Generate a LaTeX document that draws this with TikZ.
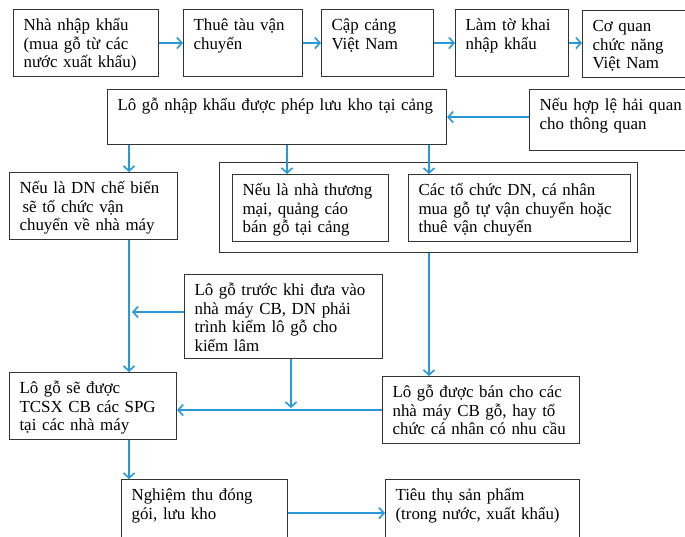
\documentclass[tikz,border=0pt]{standalone}
\usepackage{fontspec}
\setmainfont{Liberation Serif}
\usetikzlibrary{arrows.meta}
\definecolor{flowblue}{RGB}{41,152,216}

\begin{document}
\begin{tikzpicture}[x=1pt, y=-1pt,
  box/.style={draw=black!80, line width=1.1pt, anchor=north west, inner xsep=10pt, inner ysep=0pt,
    text height=21pt, align=left, font=\fontsize{16.9}{18.6}\selectfont},
  frame/.style={draw=black!80, line width=1.1pt, anchor=north west, inner sep=0pt},
  flow/.style={flowblue, line width=1.8pt, -{Straight Barb[length=5pt, width=11pt, line width=1.6pt]}}]
\useasboundingbox (0,0) rectangle (685,537);
\clip (0,0) rectangle (685,537);

\coordinate (a) at (129,0);
\coordinate (b) at (287,0);
\coordinate (c) at (429,0);
\coordinate (e) at (291,0);

\node (1) [box, text width=125pt, text depth=46pt] at (13,9) {Nhà nhập khẩu\\(mua gỗ từ các\\nước xuất khẩu)};
\node (2) [box, text width=99pt, text depth=46pt] at (183,9) {Thuê tàu vận\\chuyển};
\node (3) [box, text width=92pt, text depth=46pt] at (321,9) {Cập cảng\\Việt Nam};
\node (4) [box, text width=93pt, text depth=46pt] at (455,9) {Làm tờ khai\\nhập khẩu};
\node (5) [box, text width=110pt, text depth=46pt] at (582,10) {Cơ quan\\chức năng\\Việt Nam};
\node (6) [box, text width=319pt, text depth=34pt] at (107,89) {Lô gỗ nhập khẩu được phép lưu kho tại cảng};
\node (7) [box, text width=165pt, text depth=40pt] at (529,89) {Nếu hợp lệ hải quan\\cho thông quan};
\node (8) [box, text width=148pt, text depth=46pt] at (9,172) {Nếu là DN chế biến\\\hspace*{3pt}sẽ tổ chức vận\\chuyển về nhà máy};
\node (9) [frame, minimum width=418pt, minimum height=90pt] at (219,162) {};
\node (10) [box, text width=136pt, text depth=46pt] at (232,174) {Nếu là nhà thương\\mại, quảng cáo\\bán gỗ tại cảng};
\node (11) [box, text width=202pt, text depth=46pt] at (408,174) {Các tổ chức DN, cá nhân\\mua gỗ tự vận chuyển hoặc\\thuê vận chuyển};
\node (12) [box, text width=178pt, text depth=63pt] at (184,274) {Lô gỗ trước khi đưa vào\\nhà máy CB, DN phải\\trình kiểm lô gỗ cho\\kiểm lâm};
\node (13) [box, text width=147pt, text depth=46pt] at (9,372) {Lô gỗ sẽ được\\TCSX CB các SPG\\tại các nhà máy};
\node (14) [box, text width=177pt, text depth=46pt] at (382,376) {Lô gỗ được bán cho các\\nhà máy CB gỗ, hay tổ\\chức cá nhân có nhu cầu};
\node (15) [box, text width=146pt, text depth=46pt] at (121,479) {Nghiệm thu đóng\\gói, lưu kho};
\node (16) [box, text width=174pt, text depth=46pt] at (385,479) {Tiêu thụ sản phẩm\\(trong nước, xuất khẩu)};

\draw[flow] (1) -- (2);
\draw[flow] (2) -- (3);
\draw[flow] (3) -- (4);
\draw[flow] (4.east) -- (4.east -| 5.west);
\draw[flow] (7.west |- 6.east) -- (6.east);
\draw[flow] (6.south -| a) -- (8.north -| a);
\draw[flow] (6.south -| b) -- (10.north -| b);
\draw[flow] (6.south -| c) -- (11.north -| c);
\draw[flow] (8.south -| a) -- (13.north -| a);
\draw[flow] ([yshift=4.5pt]12.west) -- ([yshift=4.5pt, xshift=3pt]12.west -| a);
\draw[flow] (9.south -| c) -- (14.north -| c);
\draw[flow] (12.south -| e) -- ([yshift=2pt]e |- 14.west);
\draw[flow] (14.west) -- (14.west -| 13.east);
\draw[flow] (13.south -| a) -- (15.north -| a);
\draw[flow] (15) -- (16);
\end{tikzpicture}
\end{document}
